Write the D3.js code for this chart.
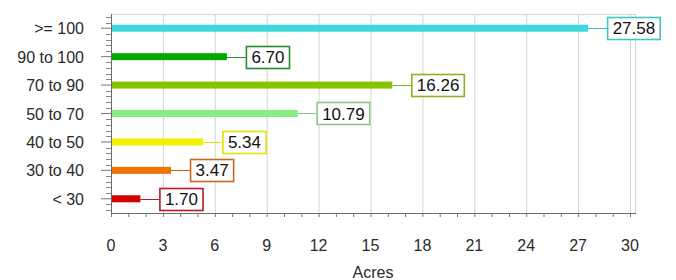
<!DOCTYPE html><html lang="en"><head><meta charset="UTF-8"><title>Acres by class</title><script src="https://d3js.org/d3.v7.min.js"></script><style>
        body { margin: 0; background: #fff; }
        svg { display: block; font-family: "Liberation Sans", Arial, sans-serif; }
        .tick-label { font-size: 16px; fill: #2a2a2a; }
        .grid { stroke: #d4d4d4; stroke-width: 1px; }
        .box text { font-size: 17px; fill: #111; }
    </style></head><body><svg id="chart"></svg><script>
        // data
        const categories = [">= 100", "90 to 100", "70 to 90", "50 to 70", "40 to 50", "30 to 40", "< 30"];
        const acres = [27.58, 6.70, 16.26, 10.79, 5.34, 3.47, 1.70];
        const barColors = ["#3cd8dc", "#00a800", "#86c400", "#84f084", "#f2f200", "#f07400", "#d40000"];
        const boxColors = ["#40c4c8", "#2a8a2a", "#8cb41c", "#88c888", "#e4e000", "#c8681c", "#b01c2c"];
        const xTicks = [0, 3, 6, 9, 12, 15, 18, 21, 24, 27, 30];

        const width = 676, height = 280;
        const plotL = 111, plotR = 635, plotT = 14, plotB = 213;

        const svg = d3.select("#chart").attr("width", width).attr("height", height);

        const x = d3.scaleLinear().domain([0, 30]).range([plotL, 630]);
        const y = d3.scaleBand().domain(categories).range([plotT, plotB]).padding(0);
        const yc = c => y(c) + y.bandwidth() / 2;

        // gridlines + frame
        svg.append("g").selectAll("line").data(xTicks.slice(1)).join("line")
            .attr("class", "grid")
            .attr("x1", d => x(d) + 0.5).attr("x2", d => x(d) + 0.5)
            .attr("y1", plotT).attr("y2", plotB);
        svg.append("line").attr("class", "grid")
            .attr("x1", plotL).attr("x2", plotR).attr("y1", plotT + 0.5).attr("y2", plotT + 0.5);
        svg.append("line").attr("class", "grid")
            .attr("x1", plotR + 0.5).attr("x2", plotR + 0.5).attr("y1", plotT).attr("y2", plotB);

        // x axis: minor ticks each acre, labels each 3
        const xAxis = svg.append("g").attr("transform", `translate(0,${plotB})`)
            .call(d3.axisBottom(x).tickValues(d3.range(0, 31)).tickSize(4).tickFormat(""));
        xAxis.select(".domain").attr("d", `M${plotL + 0.5},0.5H${plotR + 1}`).attr("stroke", "#6a6a6a");
        xAxis.selectAll(".tick line").attr("stroke", "#777");
        svg.append("g").selectAll("text").data(xTicks).join("text")
            .attr("class", "tick-label")
            .attr("x", d => x(d)).attr("y", 251)
            .attr("text-anchor", "middle")
            .text(d => d);
        svg.append("text").attr("class", "tick-label")
            .attr("x", (plotL + plotR) / 2).attr("y", 278)
            .attr("text-anchor", "middle").text("Acres");

        // y axis
        const yAxis = svg.append("g").attr("transform", `translate(${plotL},0)`)
            .call(d3.axisLeft(y).tickSize(10).tickFormat(""));
        yAxis.select(".domain").attr("d", `M0.5,${plotT}V${plotB + 0.5}`).attr("stroke", "#6a6a6a");
        yAxis.selectAll(".tick line").attr("stroke", "#777");
        const step = y.bandwidth() / 5;
        const minor = [];
        categories.forEach(c => [-2, -1, 1, 2].forEach(k => minor.push(yc(c) + k * step)));
        yAxis.append("g").selectAll("line").data(minor).join("line")
            .attr("x1", -5).attr("x2", 0)
            .attr("y1", d => Math.round(d) + 0.5).attr("y2", d => Math.round(d) + 0.5)
            .attr("stroke", "#888");
        svg.append("g").selectAll("text").data(categories).join("text")
            .attr("class", "tick-label")
            .attr("x", 84).attr("y", d => yc(d) + 6)
            .attr("text-anchor", "end")
            .text(d => d);

        // bars
        svg.append("g").selectAll("rect").data(categories).join("rect")
            .attr("x", plotL + 1)
            .attr("y", d => yc(d) - 3.5)
            .attr("width", (d, i) => x(acres[i]) - plotL - 1)
            .attr("height", 7)
            .attr("fill", (d, i) => barColors[i]);

        // value boxes with connector
        const box = svg.append("g").selectAll("g").data(categories).join("g").attr("class", "box");
        box.append("line")
            .attr("x1", (d, i) => x(acres[i])).attr("x2", (d, i) => x(acres[i]) + 19)
            .attr("y1", d => Math.round(yc(d)) + 0.5).attr("y2", d => Math.round(yc(d)) + 0.5)
            .attr("stroke", (d, i) => boxColors[i]);
        const bx = box.append("rect");
        const bt = box.append("text")
            .attr("x", (d, i) => x(acres[i]) + 24.5)
            .attr("y", d => yc(d) + 6)
            .text((d, i) => acres[i].toFixed(2));
        bt.each(function (d, i) {
            const w = this.getComputedTextLength();
            d3.select(bx.nodes()[i])
                .attr("x", x(acres[i]) + 19.5).attr("y", Math.round(yc(d)) - 10.5)
                .attr("width", w + 10).attr("height", 22)
                .attr("fill", "#fff").attr("stroke", boxColors[i]).attr("stroke-width", 1.6);
        });
    </script></body></html>
